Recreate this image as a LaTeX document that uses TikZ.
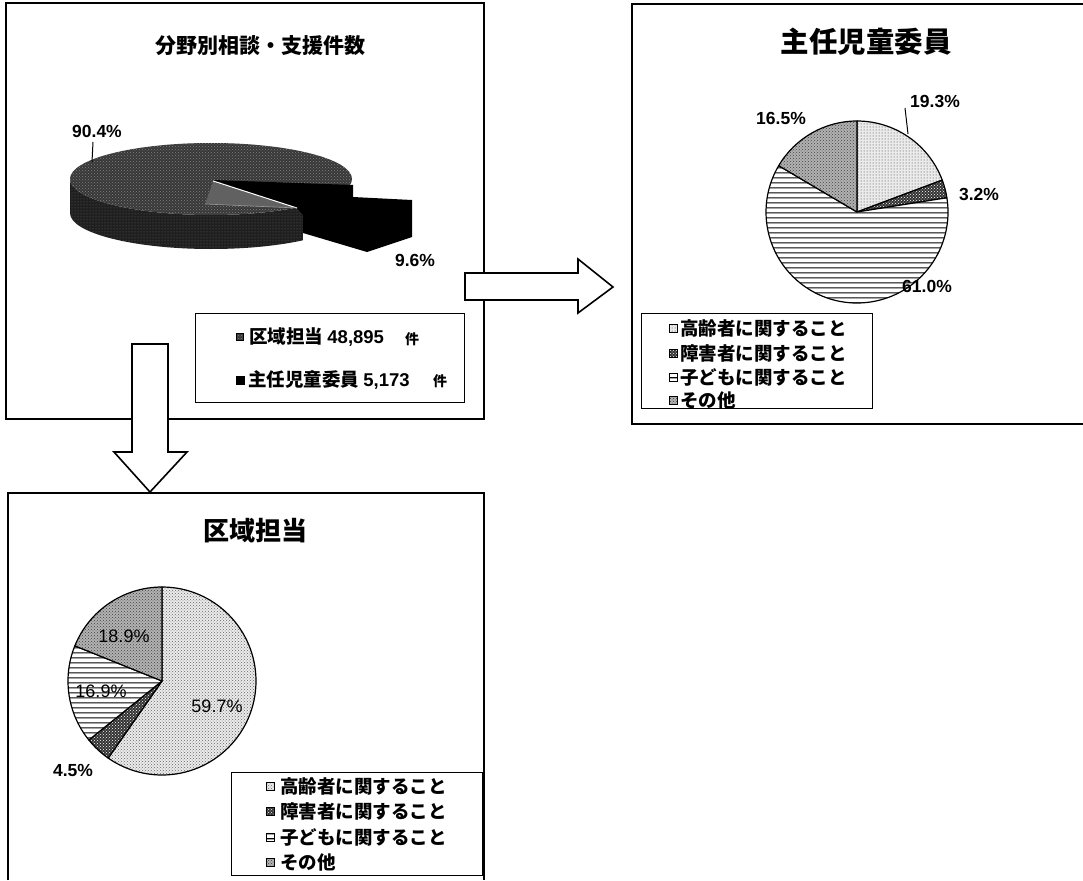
\documentclass[tikz,border=0pt]{standalone}
\usepackage{fontspec}
\setmainfont{Liberation Sans}
\newfontfamily\jp{Noto Sans CJK JP}
\usetikzlibrary{patterns,patterns.meta}
\tikzdeclarepattern{
  name=hlinesfive,
  type=uncolored,
  tile size={(8pt,5pt)},
  bounding box={(0pt,0pt) and (8pt,5pt)},
  code={\draw[line width=1.3pt] (-1pt,2.5pt) -- (9pt,2.5pt);}
}
\tikzset{
  panel/.style={line width=1.3pt},
  blockarrow/.style={draw, fill=white, line width=1.6pt, line join=miter},
  slice/.style={draw, line width=1.2pt, line join=round},
  legendbox/.style={draw, line width=1pt},
  koureisha/.style={preaction={fill=black!8}, pattern=dots, pattern color=black!80},
  koureishaB/.style={preaction={fill=black!8}, pattern=crosshatch dots, pattern color=black!60},
  shogai/.style={preaction={fill=black!80}, pattern=crosshatch dots, pattern color=white},
  kodomo/.style={preaction={fill=white}, pattern=hlinesfive, pattern color=black},
  sonota/.style={preaction={fill=black!30}, pattern=crosshatch dots, pattern color=black!75},
  pietop/.style={preaction={fill=black!78}, pattern=crosshatch dots, pattern color=black!50},
  pieside/.style={preaction={fill=black!88}, pattern=dots, pattern color=black!60},
  ttl/.style={inner sep=0pt, font=\jp\bfseries},
  pct/.style={inner sep=0pt, font=\bfseries\fontsize{17.5}{17.5}\selectfont},
  pctr/.style={inner sep=0pt, font=\fontsize{18}{18}\selectfont},
  leg/.style={inner sep=0pt, anchor=west, font=\jp\bfseries\fontsize{18.5}{18.5}\selectfont},
  icon/.style={draw, line width=0.8pt},
}
\begin{document}
\begin{tikzpicture}[x=1pt,y=-1pt]
\useasboundingbox (0,0) rectangle (1083,880);
\fill[white] (0,0) rectangle (1083,880);

% ---------------- top-left panel ----------------
\draw[panel] (6,3) rectangle (484,419);
\node[ttl, font=\jp\bfseries\fontsize{21}{21}\selectfont] (t1) at (260,46) {分野別相談・支援件数};

% 3D pie
\coordinate (pc) at (211,179);
\path[pieside] (70,213) arc[start angle=180, end angle=49.3, x radius=141, y radius=36]
   -- ++(0,-34) arc[start angle=49.3, end angle=180, x radius=141, y radius=36] -- cycle;
\path[pietop] (pc) ellipse [x radius=141, y radius=36];
\fill[black] (213,180) -- (353,185) -- (353,197) -- (412,200) -- (412,237) -- (367,252)
   -- (303,233) -- (303,215) -- (297,208) -- cycle;
\fill[black!62] (213,182) -- (297,208) -- (205,204) -- cycle;
\draw[white, line width=1pt] (213,181) -- (297,208);
\draw[white!60!black, line width=0.6pt] (205,204) -- (297,208);

\node[pct] (p904) at (97,131) {90.4\%};
\draw[line width=1pt] (93,142) -- (92,162);
\node[pct] (p96) at (415,260) {9.6\%};

% legend
\draw[legendbox] (195,313) rectangle (464,402);
\path[pietop, icon] (236.5,333.5) rectangle (243.5,340.5);
\node[leg] (l1) at (249,337) {区域担当 {\rmfamily\fontsize{18.5}{18}\selectfont 48,895}};
\node[ttl, font=\jp\bfseries\fontsize{14}{14}\selectfont] (k1) at (412,339) {件};
\fill[black] (235.5,375.5) rectangle (244.5,384.5);
\node[leg] (l2) at (248,380) {主任児童委員 {\rmfamily\fontsize{18.5}{18}\selectfont 5,173}};
\node[ttl, font=\jp\bfseries\fontsize{14}{14}\selectfont] (k2) at (440,381) {件};

% ---------------- top-right panel ----------------
\draw[panel] (1083,4) -- (632,4) -- (632,424) -- (1083,424);
\node[ttl, font=\jp\bfseries\fontsize{28.5}{28.5}\selectfont] (t2) at (866,42) {主任児童委員};

\coordinate (rc) at (857,212);
\path[slice, koureisha] (rc) -- ++(-90:91) arc[start angle=-90, end angle=-20.52, radius=91] -- cycle;
\path[slice, shogai] (rc) -- ++(-20.52:91) arc[start angle=-20.52, end angle=-9, radius=91] -- cycle;
\path[slice, kodomo] (rc) -- ++(-9:91) arc[start angle=-9, end angle=210.6, radius=91] -- cycle;
\path[slice, sonota] (rc) -- ++(210.6:91) arc[start angle=210.6, end angle=270, radius=91] -- cycle;

\node[pct] (p193) at (935,101) {19.3\%};
\draw[line width=1pt] (905,108) -- (908,134);
\node[pct] (p165) at (781,118) {16.5\%};
\node[pct] (p32) at (979,194) {3.2\%};
\node[pct] (p610) at (927,286) {61.0\%};

\draw[legendbox] (641,313) rectangle (872,408);
\path[koureisha, icon] (669,324) rectangle (677,332);
\node[leg] (r1) at (680,328) {高齢者に関すること};
\path[shogai, icon] (669,349) rectangle (677,357);
\node[leg] (r2) at (680,353) {障害者に関すること};
\path[kodomo, icon] (669,373) rectangle (677,381);
\node[leg] (r3) at (680,377) {子どもに関すること};
\path[sonota, icon] (669,396) rectangle (677,404);
\node[leg] (r4) at (680,400) {その他};

% ---------------- bottom-left panel ----------------
\draw[panel] (8,880) -- (8,493) -- (484,493) -- (484,880);
\node[ttl, font=\jp\bfseries\fontsize{26}{26}\selectfont] (t3) at (255,531) {区域担当};

\coordinate (bc) at (162,681);
\path[slice, koureishaB] (bc) -- ++(-90:94) arc[start angle=-90, end angle=124.92, radius=94] -- cycle;
\path[slice, shogai] (bc) -- ++(124.92:94) arc[start angle=124.92, end angle=141.12, radius=94] -- cycle;
\path[slice, kodomo] (bc) -- ++(141.12:94) arc[start angle=141.12, end angle=201.96, radius=94] -- cycle;
\path[slice, sonota] (bc) -- ++(201.96:94) arc[start angle=201.96, end angle=270, radius=94] -- cycle;

\node[pctr] (p189) at (124,636) {18.9\%};
\node[pctr] (p169) at (101,691) {16.9\%};
\node[pctr] (p597) at (217,706) {59.7\%};
\node[pct] (p45) at (73,770) {4.5\%};

\draw[legendbox] (231,772) rectangle (482,875);
\path[koureishaB, icon] (266,782) rectangle (274,790);
\node[leg] (b1) at (280,786) {高齢者に関すること};
\path[shogai, icon] (266,807) rectangle (274,815);
\node[leg] (b2) at (280,811) {障害者に関すること};
\path[kodomo, icon] (266,833) rectangle (274,841);
\node[leg] (b3) at (280,837) {子どもに関すること};
\path[sonota, icon] (266,858) rectangle (274,866);
\node[leg] (b4) at (280,862) {その他};

% ---------------- block arrows ----------------
\draw[blockarrow] (465,273) -- (578,273) -- (578,259) -- (613,287) -- (578,313) -- (578,300) -- (465,300) -- cycle;
\draw[blockarrow] (132,344) -- (168,344) -- (168,452) -- (187,452) -- (150,492) -- (114,452) -- (132,452) -- cycle;
\end{tikzpicture}
\end{document}
